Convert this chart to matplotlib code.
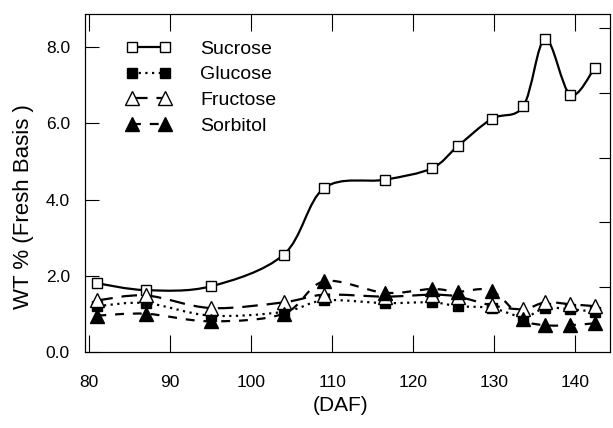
#!/usr/bin/env python3
"""Sugar content (WT %, fresh basis) versus days after flowering."""

import matplotlib
matplotlib.use('Agg')
import matplotlib.pyplot as plt
import numpy as np
from matplotlib.path import Path
from matplotlib.patches import PathPatch
from matplotlib.lines import Line2D

plt.rcParams['font.family'] = ['Liberation Sans', 'DejaVu Sans']

# values
daf = [81, 87, 95, 104, 109, 116.5, 122.3, 125.5, 129.7, 133.6, 136.3, 139.4, 142.4]
sucrose = [1.80, 1.62, 1.72, 2.55, 4.30, 4.52, 4.82, 5.40, 6.12, 6.45, 8.22, 6.75, 7.45]
glucose = [1.20, 1.28, 0.95, 1.05, 1.35, 1.28, 1.30, 1.20, 1.15, 0.92, 1.15, 1.12, 1.05]
fructose = [1.35, 1.48, 1.15, 1.30, 1.50, 1.45, 1.50, 1.45, 1.22, 1.12, 1.30, 1.25, 1.20]
sorbitol = [0.95, 1.00, 0.80, 1.00, 1.85, 1.55, 1.65, 1.58, 1.60, 0.85, 0.70, 0.70, 0.75]

x_ticks = [80, 90, 100, 110, 120, 130, 140]
y_ticks = [0.0, 2.0, 4.0, 6.0, 8.0]
right_ticks = [1.7, 3.4, 5.1, 6.8, 8.5]


def smooth_path(x, y):
    """Catmull-Rom curve through the points as a bezier path."""
    pts = np.column_stack([x, y])
    verts = [pts[0]]
    codes = [Path.MOVETO]
    n = len(pts)
    for i in range(n - 1):
        p0 = pts[i - 1] if i > 0 else pts[i]
        p1 = pts[i]
        p2 = pts[i + 1]
        p3 = pts[i + 2] if i + 2 < n else pts[i + 1]
        verts += [p1 + (p2 - p0) / 6, p2 - (p3 - p1) / 6, p2]
        codes += [Path.CURVE4] * 3
    return Path(verts, codes)


series = [
    ('Sucrose', sucrose, '-', 's', 'white', 7),
    ('Glucose', glucose, (0, (1, 2)), 's', 'black', 7),
    ('Fructose', fructose, (0, (7, 4)), '^', 'white', 10),
    ('Sorbitol', sorbitol, (0, (4, 4)), '^', 'black', 10),
]

fig = plt.figure(figsize=(6.13, 4.28), dpi=100)
ax = fig.add_axes([0.139, 0.178, 0.856, 0.789])

handles = []
for name, vals, ls, mk, face, ms in series:
    patch = PathPatch(smooth_path(daf, vals), fill=False, edgecolor='black',
                      linewidth=1.6, linestyle=ls, zorder=3)
    ax.add_patch(patch)
    ax.plot(daf, vals, linestyle='none', marker=mk, markersize=ms,
            markerfacecolor=face, markeredgecolor='black', markeredgewidth=1.0,
            zorder=4)
    handles.append(Line2D([], [], color='black', linewidth=1.6, linestyle=ls,
                          marker=mk, markersize=ms, markerfacecolor=face,
                          markeredgecolor='black'))

ax.set_xlim(79.5, 144.3)
ax.set_ylim(0, 8.87)
ax.set_xticks(x_ticks)
ax.set_yticks(y_ticks)
ax.set_yticklabels([f'{v:.1f}' for v in y_ticks])
ax.tick_params(axis='x', direction='in', length=12, width=0.8, top=True,
               labelsize=12.5, pad=17)
ax.tick_params(axis='y', direction='in', length=10, width=0.8,
               labelsize=12.5, pad=11)

ax_r = ax.twinx()
ax_r.set_ylim(0, 8.87)
ax_r.set_yticks(right_ticks)
ax_r.tick_params(axis='y', direction='in', length=8, width=0.8, labelright=False)

for a in (ax, ax_r):
    for s in a.spines.values():
        s.set_linewidth(0.8)

ax.set_xlabel('(DAF)', fontsize=15)
ax.xaxis.set_label_coords(0.486, -0.13)
ax.set_ylabel('WT % (Fresh Basis )', fontsize=16)
ax.yaxis.set_label_coords(-0.097, 0.43)

ax.legend(handles, [s[0] for s in series], loc='upper left',
          bbox_to_anchor=(0.045, 0.975), frameon=False, numpoints=2,
          handlelength=2.3, handletextpad=1.5, labelspacing=0.42, fontsize=14)

fig.savefig('out.png', dpi=100)
